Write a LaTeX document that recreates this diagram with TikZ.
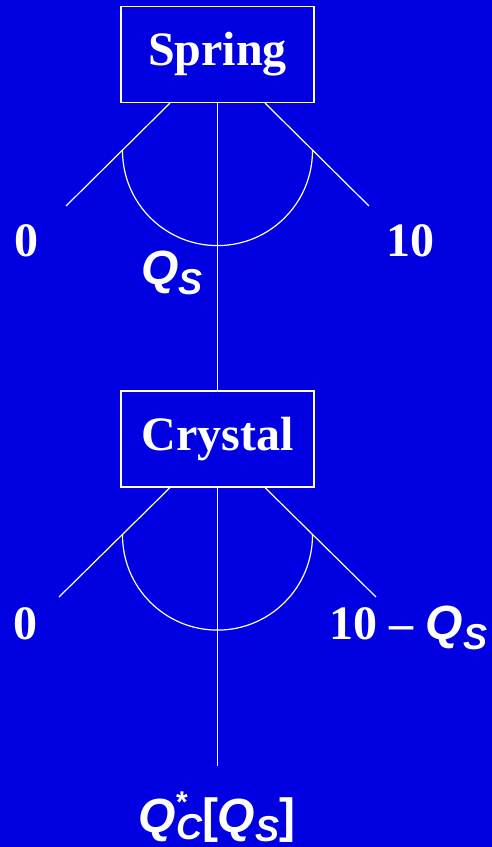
\documentclass[tikz,border=0pt]{standalone}
\usepackage{fontspec}
\setmainfont{Liberation Serif}
\setsansfont{Liberation Sans}
\usetikzlibrary{positioning}

\definecolor{slideblue}{RGB}{0,0,224}

% payoff variable Q with a (large) subscript
\newcommand{\qvar}[1]{{\sffamily\bfseries\itshape Q\raisebox{-0.36ex}{\fontsize{36}{36}\selectfont #1}}}

\tikzset{
  player/.style={draw=white,line width=1.2pt,minimum width=193pt,
    minimum height=96pt,inner sep=0pt,text=white,
    font=\bfseries\fontsize{48}{48}\selectfont},
  payoff/.style={text=white,inner sep=0pt,anchor=base,
    font=\bfseries\fontsize{48}{48}\selectfont},
  qlab/.style={text=white,inner sep=0pt,anchor=base,
    font=\fontsize{48}{48}\selectfont},
  branch/.style={draw=white,line width=1.2pt}
}

\begin{document}
\begin{tikzpicture}[x=1pt,y=1pt]

\fill[slideblue] (0,0) rectangle (492,847);

% Spring chooses Q_S between 0 and 10.
\node[player] (spring) at (217.5,792.5) {Spring};
\coordinate (slo) at (66,641);
\coordinate (shi) at (369,641);
\draw[branch] ([xshift=-47.5pt]spring.south) -- (slo);
\draw[branch] ([xshift=47.5pt]spring.south) -- (shi);
\draw[branch] (spring.south) ++(-95,-47.5)
  arc[start angle=180,end angle=360,radius=95];
\node[payoff] (szero) at (27,590) {0};
\node[payoff] (sten) at (410,590) {10};
\node[qlab] (qs) at (172,562) {\qvar{S}};

% Crystal then chooses between 0 and 10 - Q_S.
\node[player] (crystal) at (217.5,408) {Crystal};
\draw[branch] (spring.south) -- (crystal.north);
\coordinate (clo) at (59,250);
\coordinate (chi) at (376,250);
\coordinate (cend) at (217.5,81);
\draw[branch] ([xshift=-47.5pt]crystal.south) -- (clo);
\draw[branch] ([xshift=47.5pt]crystal.south) -- (chi);
\draw[branch] (crystal.south) ++(-95,-47.5)
  arc[start angle=180,end angle=360,radius=95];
\draw[branch] (crystal.south) -- (cend);
\node[payoff] (czero) at (25,207) {0};
\node[payoff] (cten) at (408.5,207) {10 -- \qvar{S}};
\node[qlab] (qc) at (217,15)
  {{\sffamily\bfseries\itshape Q}\rlap{\raisebox{0.9ex}{\sffamily\bfseries\fontsize{30}{30}\selectfont *}}\raisebox{-0.36ex}{\sffamily\bfseries\itshape\fontsize{36}{36}\selectfont C}{\sffamily\bfseries[}\qvar{S}{\sffamily\bfseries]}};

\end{tikzpicture}
\end{document}
